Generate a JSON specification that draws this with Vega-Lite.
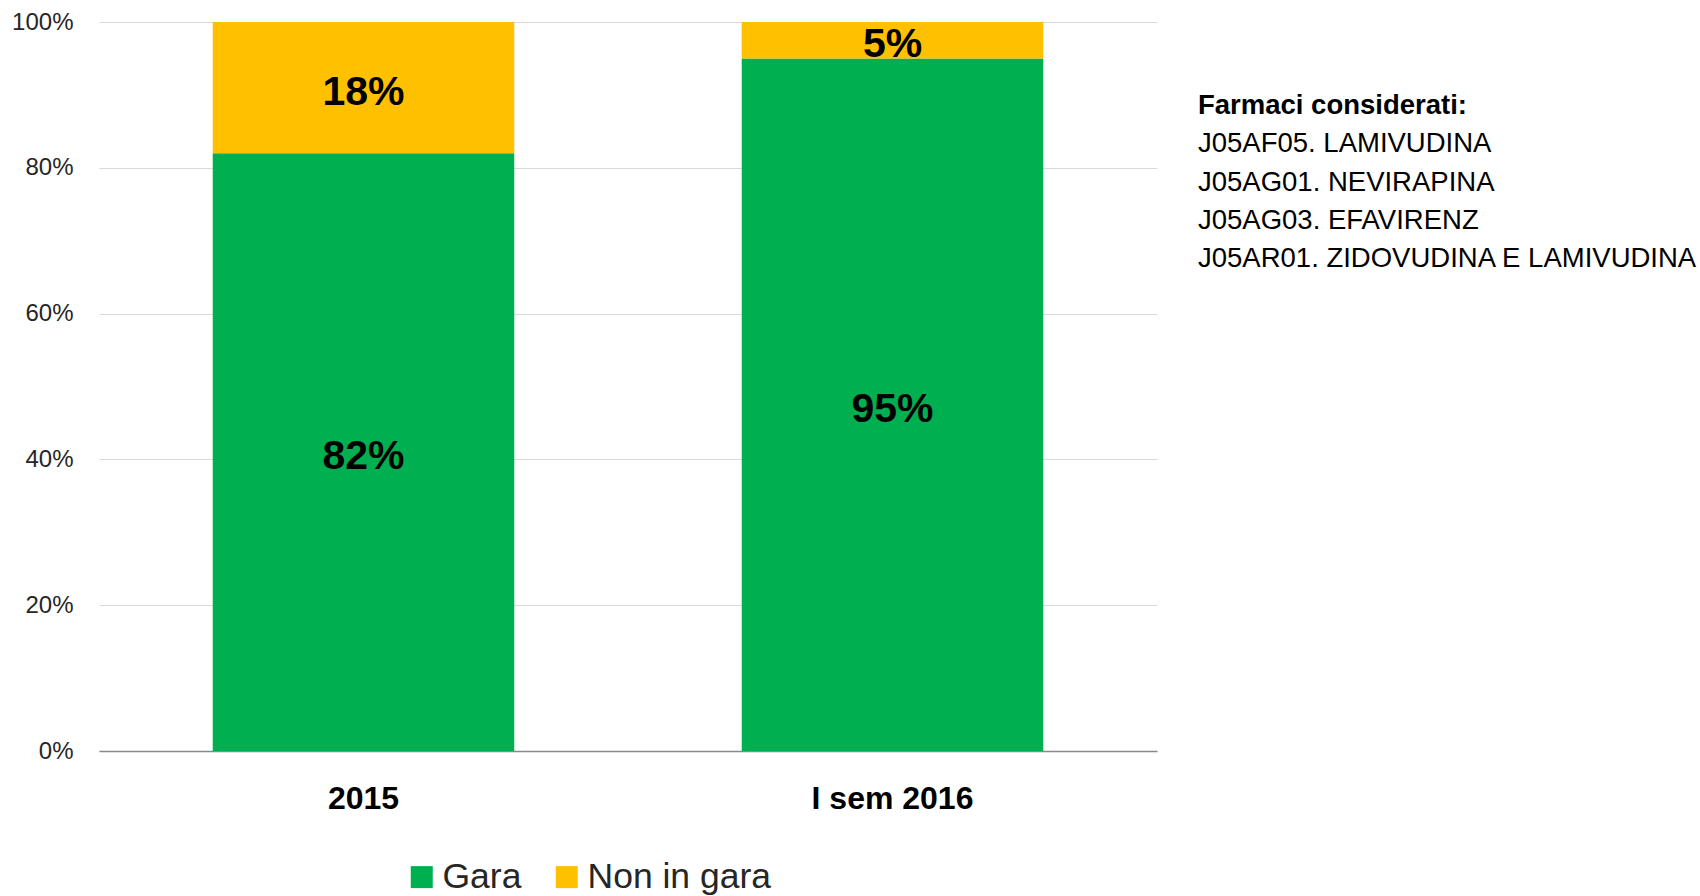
{
  "$schema": "https://vega.github.io/schema/vega-lite/v6.json",
  "padding": {"left": 11, "top": 10, "right": 0, "bottom": 0},
  "background": "white",
  "config": {"view": {"stroke": null}, "font": "Liberation Sans"},
  "spacing": 41,
  "resolve": {"legend": {"color": "independent"}},
  "hconcat": [
    {
      "width": 1058,
      "height": 729,
      "data": {"values": [
        {"periodo": "2015", "tipo": "Gara", "quota": 0.82},
        {"periodo": "2015", "tipo": "Non in gara", "quota": 0.18},
        {"periodo": "I sem 2016", "tipo": "Gara", "quota": 0.95},
        {"periodo": "I sem 2016", "tipo": "Non in gara", "quota": 0.05}
      ]},
      "transform": [
        {"stack": "quota", "groupby": ["periodo"], "sort": [{"field": "tipo", "order": "ascending"}], "as": ["q0", "q1"]},
        {"calculate": "(datum.q0 + datum.q1) / 2", "as": "qmid"}
      ],
      "encoding": {
        "x": {
          "field": "periodo", "type": "nominal",
          "scale": {"paddingInner": 0.43, "paddingOuter": 0.215},
          "axis": {"title": null, "labelAngle": 0, "labelFontSize": 32, "labelFontWeight": "bold", "labelColor": "black", "ticks": false, "domainColor": "#898989", "domainWidth": 1.5, "labelBaseline": "middle", "labelPadding": 47}
        }
      },
      "layer": [
        {
          "mark": {"type": "bar"},
          "encoding": {
            "y": {"field": "q0", "type": "quantitative", "scale": {"domain": [0, 1]},
              "axis": {"title": null, "values": [0, 0.2, 0.4, 0.6, 0.8, 1], "format": ".0%", "domain": false, "ticks": false, "labelPadding": 26, "labelFontSize": 24, "labelColor": "#262626", "gridColor": "#d9d9d9", "gridWidth": 1}},
            "y2": {"field": "q1"},
            "color": {
              "field": "tipo", "type": "nominal",
              "scale": {"domain": ["Gara", "Non in gara"], "range": ["#00B050", "#FFC000"]},
              "legend": {"title": null, "orient": "none", "legendX": 305, "legendY": 837, "direction": "horizontal", "symbolType": "square", "symbolSize": 484, "symbolStrokeWidth": 0, "labelFontSize": 35.5, "labelColor": "#262626", "labelLimit": 0, "columnPadding": 27, "labelOffset": 3}
            }
          }
        },
        {
          "mark": {"type": "text", "fontSize": 41, "fontWeight": "bold", "color": "black", "baseline": "middle", "dy": 5},
          "encoding": {
            "y": {"field": "qmid", "type": "quantitative"},
            "text": {"field": "quota", "type": "quantitative", "format": ".0%"}
          }
        }
      ]
    },
    {
      "width": 10,
      "height": 321,
      "data": {"values": [
        {"riga": 0, "testo": "Farmaci considerati:"},
        {"riga": 1, "testo": "J05AF05. LAMIVUDINA"},
        {"riga": 2, "testo": "J05AG01. NEVIRAPINA"},
        {"riga": 3, "testo": "J05AG03. EFAVIRENZ"},
        {"riga": 4, "testo": "J05AR01. ZIDOVUDINA E LAMIVUDINA"}
      ]},
      "encoding": {
        "y": {"field": "riga", "type": "quantitative", "scale": {"domain": [6.196, -2.196], "nice": false, "zero": false}, "axis": null},
        "x": {"datum": 0, "type": "quantitative", "scale": {"domain": [0, 1]}, "axis": null},
        "text": {"field": "testo", "type": "nominal"}
      },
      "layer": [
        {
          "transform": [{"filter": "datum.riga == 0"}],
          "mark": {"type": "text", "fontSize": 27.5, "fontWeight": "bold", "color": "black", "align": "left", "baseline": "middle"}
        },
        {
          "transform": [{"filter": "datum.riga > 0"}],
          "mark": {"type": "text", "fontSize": 27.5, "color": "black", "align": "left", "baseline": "middle"}
        }
      ]
    }
  ]
}
